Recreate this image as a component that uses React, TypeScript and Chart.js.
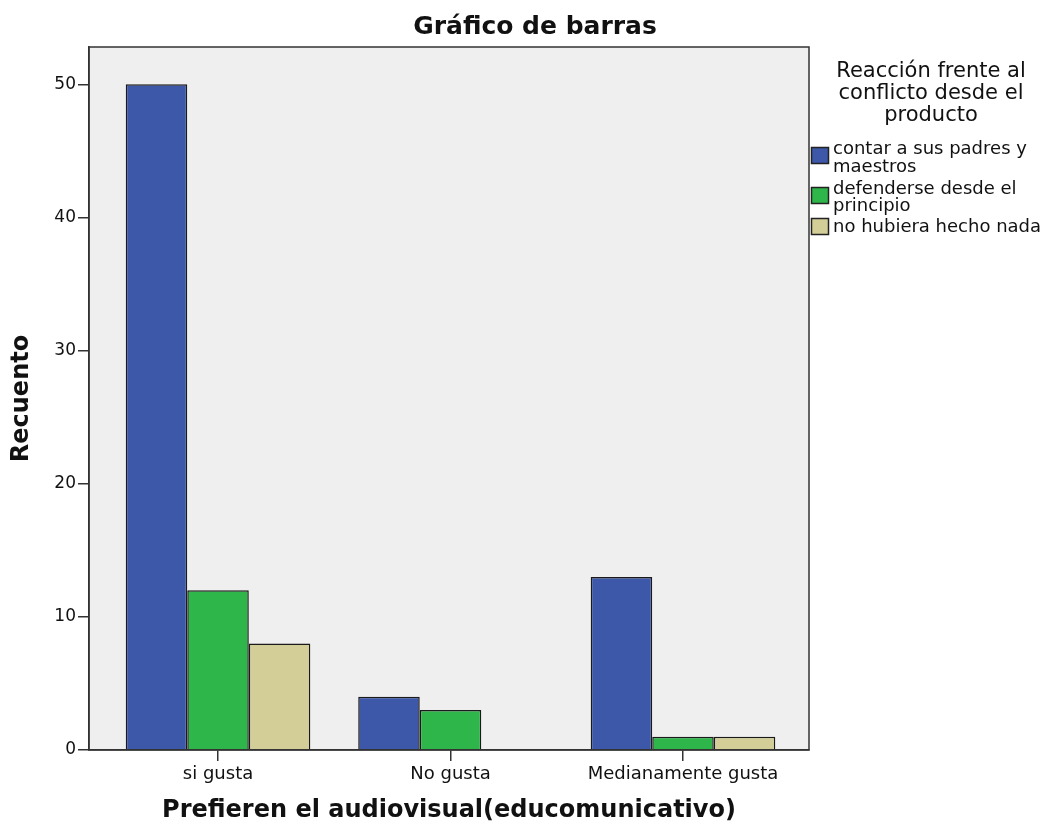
import React, { useEffect, useRef } from "react";
import { Chart, registerables } from "chart.js";

Chart.register(...registerables);

const categories = ["si gusta", "No gusta", "Medianamente gusta"];
const seriesNames = [
  ["contar a sus padres y", "maestros"],
  ["defenderse desde el", "principio"],
  ["no hubiera hecho nada"],
];
const contarValues = [50, 4, 13];
const defenderseValues = [12, 3, 1];
const nadaValues = [8, 0, 1];
const seriesColors = ["#3d57a9", "#2eb64a", "#d3ce98"];
const yTicks = [0, 10, 20, 30, 40, 50];
const chartTitle = "Gráfico de barras";
const legendTitle = ["Reacción frente al", "conflicto desde el", "producto"];
const xTitle = "Prefieren el audiovisual(educomunicativo)";
const yTitle = "Recuento";

const FONT = '"DejaVu Sans", Verdana, sans-serif';

const decorPlugin = {
  id: "decor",
  beforeDraw(chart: any) {
    const { ctx, chartArea } = chart;
    ctx.save();
    ctx.fillStyle = "#efefef";
    ctx.fillRect(chartArea.left, chartArea.top, chartArea.right - chartArea.left, chartArea.bottom - chartArea.top);
    ctx.restore();
  },
  afterDraw(chart: any) {
    const { ctx, chartArea } = chart;
    ctx.save();
    ctx.strokeStyle = "#333";
    ctx.lineWidth = 1.5;
    ctx.strokeRect(chartArea.left, chartArea.top, chartArea.right - chartArea.left, chartArea.bottom - chartArea.top);

    // title
    ctx.fillStyle = "#111";
    ctx.font = `bold 25px ${FONT}`;
    ctx.textAlign = "center";
    ctx.textBaseline = "middle";
    ctx.fillText(chartTitle, 535, 27);

    // legend title
    ctx.font = `21px ${FONT}`;
    const ltY = [72, 94, 116];
    legendTitle.forEach((t, i) => ctx.fillText(t, 931, ltY[i]));

    // legend items
    const boxY = [147, 187, 218];
    const textY = [[149, 167], [189, 206], [227]];
    ctx.font = `18px ${FONT}`;
    ctx.textAlign = "left";
    seriesNames.forEach((lines, i) => {
      ctx.fillStyle = seriesColors[i];
      ctx.fillRect(811, boxY[i], 18, 17);
      ctx.strokeStyle = "#222";
      ctx.lineWidth = 1.5;
      ctx.strokeRect(811.5, boxY[i] + 0.5, 17, 16);
      ctx.fillStyle = "#111";
      lines.forEach((l, j) => ctx.fillText(l, 833, textY[i][j]));
    });
    ctx.restore();
  },
};

export default function App() {
  const ref = useRef<HTMLCanvasElement | null>(null);
  useEffect(() => {
    if (!ref.current) return;
    Chart.defaults.font.family = FONT;
    Chart.defaults.color = "#111";
    const mk = (vals: number[]) => vals.map((v, i) => ({ x: i, y: v }));
    const chart = new Chart(ref.current, {
      type: "bar",
      data: {
        datasets: [contarValues, defenderseValues, nadaValues].map((vals, i) => ({
          label: seriesNames[i].join(" "),
          data: mk(vals),
          backgroundColor: seriesColors[i],
          borderColor: "#1a1a1a",
          borderWidth: 1.5,
          categoryPercentage: 0.794,
          barPercentage: 1,
        })),
      },
      options: {
        animation: false,
        responsive: true,
        maintainAspectRatio: false,
        layout: { padding: { top: 47, right: 245, left: 0, bottom: 0 } },
        plugins: { legend: { display: false }, title: { display: false }, tooltip: { enabled: false } },
        scales: {
          x: {
            type: "linear",
            offset: false,
            min: -0.555,
            max: 2.542,
            afterBuildTicks: (s: any) => {
              s.ticks = categories.map((_, i) => ({ value: i }));
            },
            afterFit: (s: any) => {
              s.height = 76;
            },
            ticks: {
              callback: (v: any) => categories[v as number] ?? "",
              font: { size: 18 },
              padding: 3,
              maxRotation: 0,
              autoSkip: false,
            },
            grid: { offset: false, drawOnChartArea: false, drawTicks: true, tickLength: 11, color: "#333", lineWidth: 1.5 },
            border: { color: "#333", width: 1.5 },
            title: {
              display: true,
              text: xTitle,
              font: { size: 24, weight: "bold" },
              padding: { top: 0, bottom: 1 },
            },
          },
          y: {
            type: "linear",
            min: 0,
            max: 52.8,
            afterBuildTicks: (s: any) => {
              s.ticks = yTicks.map((v) => ({ value: v }));
            },
            afterFit: (s: any) => {
              s.width = 89;
            },
            ticks: { font: { size: 17 }, padding: 2 },
            grid: { drawOnChartArea: false, drawTicks: true, tickLength: 11, color: "#333", lineWidth: 1.5 },
            border: { color: "#333", width: 1.5 },
            title: {
              display: true,
              text: yTitle,
              font: { size: 24, weight: "bold" },
              padding: { top: 7, bottom: 0 },
            },
          },
        },
      } as any,
      plugins: [decorPlugin],
    });
    return () => chart.destroy();
  }, []);
  return (
    <div style={{ position: "absolute", left: 0, top: 0, width: 1054, height: 826 }}>
      <canvas ref={ref} />
    </div>
  );
}
